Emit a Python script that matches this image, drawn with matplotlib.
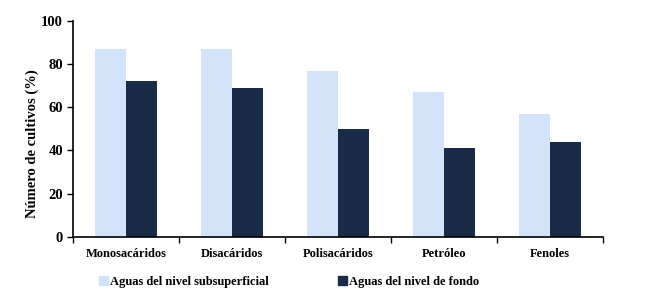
import numpy as np
import matplotlib.pyplot as plt
from matplotlib.patches import Rectangle

categories = ["Monosacáridos", "Disacáridos", "Polisacáridos", "Petróleo", "Fenoles"]
subsuperficial = [87, 87, 77, 67, 57]
fondo = [72, 69, 50, 41, 44]
series_names = ["Aguas del nivel subsuperficial", "Aguas del nivel de fondo"]

light = "#D3E4FA"
dark = "#182C48"

plt.rcParams['font.family'] = ['Liberation Serif', 'DejaVu Serif']
plt.rcParams['font.weight'] = 'bold'

fig = plt.figure(figsize=(6.5, 2.98), dpi=100)
ax = fig.add_axes([0.112, 0.205, 0.816, 0.725])

x = np.arange(len(categories))
w = 0.29
ax.bar(x - w / 2, subsuperficial, w, color=light)
ax.bar(x + w / 2, fondo, w, color=dark)

ax.set_xlim(-0.5, len(categories) - 0.5)
ax.set_ylim(0, 100)
ax.set_yticks(range(0, 101, 20))
ax.set_xticks(x)
ax.set_xticklabels(categories, fontsize=9, fontweight='bold')
ax.set_xticks(np.arange(-0.5, len(categories)), minor=True)
ax.tick_params(axis='x', which='major', length=0, pad=8)
ax.tick_params(axis='x', which='minor', length=4, width=1)
ax.tick_params(axis='y', length=4, width=1, labelsize=10.5, pad=3)
for lab in ax.get_yticklabels():
    lab.set_fontweight('bold')

for s in ['top', 'right']:
    ax.spines[s].set_visible(False)
for s in ['left', 'bottom']:
    ax.spines[s].set_linewidth(1.2)

ax.set_ylabel("Número de cultivos (%)", fontsize=10.5, fontweight='bold', va='center')
ax.yaxis.set_label_coords(-0.077, 0.43)

handles = [Rectangle((0, 0), 1, 1, color=light), Rectangle((0, 0), 1, 1, color=dark)]
fig.legend(handles, series_names, loc='center', bbox_to_anchor=(0.445, 0.055), ncol=2,
           frameon=False, handlelength=0.7, handleheight=0.7, handletextpad=0.2,
           columnspacing=5.5, prop={'size': 9, 'weight': 'bold'})

fig.savefig("out.png", dpi=100)
